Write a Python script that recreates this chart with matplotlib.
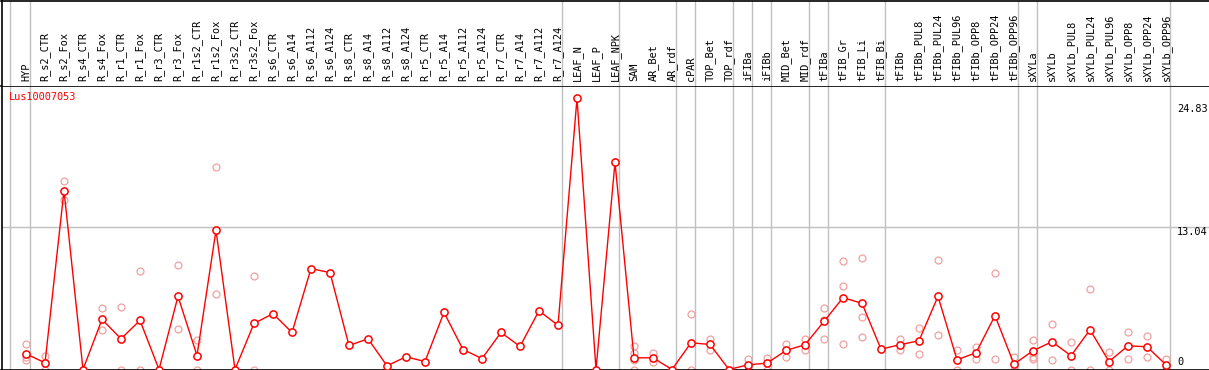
import numpy as np
import matplotlib.pyplot as plt

# samples (x order)
samples = ['HYP', 'R_s2_CTR', 'R_s2_Fox', 'R_s4_CTR', 'R_s4_Fox', 'R_r1_CTR', 'R_r1_Fox',
           'R_r3_CTR', 'R_r3_Fox', 'R_r1s2_CTR', 'R_r1s2_Fox', 'R_r3s2_CTR', 'R_r3s2_Fox',
           'R_s6_CTR', 'R_s6_A14', 'R_s6_A112', 'R_s6_A124', 'R_s8_CTR', 'R_s8_A14',
           'R_s8_A112', 'R_s8_A124', 'R_r5_CTR', 'R_r5_A14', 'R_r5_A112', 'R_r5_A124',
           'R_r7_CTR', 'R_r7_A14', 'R_r7_A112', 'R_r7_A124', 'LEAF_N', 'LEAF_P', 'LEAF_NPK',
           'SAM', 'AR_Bet', 'AR_rdf', 'cPAR', 'TOP_Bet', 'TOP_rdf', 'iFIBa', 'iFIBb',
           'MID_Bet', 'MID_rdf', 'tFIBa', 'tFIB_Gr', 'tFIB_Li', 'tFIB_Bi', 'tFIBb',
           'tFIBb_PUL8', 'tFIBb_PUL24', 'tFIBb_PUL96', 'tFIBb_OPP8', 'tFIBb_OPP24',
           'tFIBb_OPP96', 'sXYLa', 'sXYLb', 'sXYLb_PUL8', 'sXYLb_PUL24', 'sXYLb_PUL96',
           'sXYLb_OPP8', 'sXYLb_OPP24', 'sXYLb_OPP96']

# mean expression
means = [1.44, 0.61, 16.39, 0.0, 4.59, 2.81, 4.5, 0.0, 6.7, 1.28, 12.75, 0.0, 4.22,
         5.11, 3.39, 9.24, 8.87, 2.2, 2.81, 0.34, 1.16, 0.73, 5.23, 1.83, 1.0,
         3.39, 2.11, 5.38, 4.04, 24.83, 0.0, 18.96,
         1.07, 1.07, 0.0, 2.45, 2.29, 0.0, 0.43, 0.58,
         1.74, 2.27, 4.4, 6.58, 6.06, 1.86, 2.27,
         2.63, 6.7, 0.89, 1.53, 4.93,
         0.49, 1.72, 2.54, 1.26, 3.64, 0.73,
         2.17, 2.08, 0.43]

# replicate values (index into samples, value)
rep_idx = [0, 0, 0, 1, 1, 2, 2, 4, 4, 5, 5, 6, 6, 8, 8, 9, 9, 10, 10, 12, 12,
           32, 32, 32, 32, 33, 33, 35, 35, 36, 36, 38, 38, 39, 39, 40, 40, 41, 41,
           42, 42, 42, 43, 43, 43, 44, 44, 44, 46, 46, 47, 47, 48, 48, 49, 49,
           50, 50, 51, 51, 52, 52, 53, 53, 53, 54, 54, 55, 55, 56, 56, 57, 57,
           58, 58, 59, 59, 60, 60]
rep_val = [2.29, 1.13, 0.9, 1.28, 0.0, 17.3, 15.5, 5.6, 3.58, 5.69, 0.0, 9.0, 0.0,
           9.54, 3.73, 2.66, 0.0, 18.5, 6.94, 8.53, 0.0,
           2.11, 1.5, 0.83, 0.0, 1.5, 0.67, 5.05, 0.0, 2.78, 1.74, 0.94, 0.0, 1.07, 0.0,
           2.29, 1.13, 2.78, 1.83,
           5.6, 4.5, 2.78, 9.97, 7.68, 2.29, 10.25, 4.77, 3.0, 2.81, 1.74, 3.83, 1.44,
           10.06, 3.18, 1.81, 0.0,
           2.02, 0.94, 8.87, 0.94, 1.19, 0.0, 2.66, 1.19, 0.94, 4.19, 0.83, 2.54, 0.0,
           7.4, 0.0, 1.56, 0.0,
           3.39, 0.92, 3.03, 1.16, 0.98, 0.0]

# group separators (after these positions)
seps = [-0.84, 0.23, 28.23, 31.23, 34.23, 35.23, 37.23, 38.23, 39.23, 41.23,
        42.23, 45.23, 52.23, 53.23, 60.23]

yticks = [0, 13.04, 24.83]
title = 'Lus10007053'

W, H = 1209, 370
fig = plt.figure(figsize=(W / 100, H / 100), dpi=100)
top_px = 85.5
bot_px = 369.5
left_px = 1.5
ax = fig.add_axes([left_px / W, (H - bot_px) / H, (W - left_px) / W, (bot_px - top_px) / H])
hx = fig.add_axes([left_px / W, (H - top_px) / H, (W - left_px) / W, top_px / H - 0.5 / H])

x = np.arange(len(samples))
ax.set_xlim((left_px - 26) / 19, (W - 26) / 19)
ax.set_ylim(0, (bot_px - 0.5 - top_px) / 10.902)
hx.set_xlim(ax.get_xlim())
hx.set_ylim(0, 1)

gray = '#c0c0c0'
for s in seps:
    ax.axvline(s, color=gray, lw=1, zorder=0)
    hx.axvline(s, color=gray, lw=1, zorder=0)
ax.axhline(13.04, color=gray, lw=1, zorder=0)

# replicates, then mean line
ax.plot(rep_idx, rep_val, 'o', ms=5, mfc='none', mec='#f0a0a0', mew=0.9, zorder=2)
ax.plot(x, means, '-', color='#ff0000', lw=1, zorder=3)
ax.plot(x, means, 'o', ms=5.2, mfc='white', mec='#ff0000', mew=1.1, zorder=4)

mono = 'DejaVu Sans Mono'
fs = 7.4
ax.set_xticks([])
ax.set_yticks([])
hx.set_yticks([])
hx.set_xticks(x)
hx.set_xticklabels(samples, rotation=90, fontsize=fs, family=mono)
# labels sit inside header, anchored at its bottom
hx.tick_params(axis='x', length=0, pad=-3)
for lab in hx.get_xticklabels():
    lab.set_verticalalignment('bottom')

for sp in ['right', 'bottom']:
    hx.spines[sp].set_visible(False)
for sp in ['left', 'top']:
    hx.spines[sp].set_linewidth(1.2)
ax.spines['right'].set_visible(False)
for sp in ['left', 'top', 'bottom']:
    ax.spines[sp].set_linewidth(1.2)

xr = (1177 - 26) / 19
ax.text(xr, yticks[2] - 0.55, '24.83', ha='left', va='top', fontsize=fs, family=mono)
ax.text(xr, yticks[1], '13.04', ha='left', va='top', fontsize=fs, family=mono)
ax.text(xr, yticks[0] + 0.2, '0', ha='left', va='bottom', fontsize=fs, family=mono)

ax.text((9 - left_px) / (W - left_px), 1 - 6 / (bot_px - top_px), title, transform=ax.transAxes,
        ha='left', va='top', color='#ff0000', fontsize=fs, family=mono)

fig.savefig('out.png', dpi=100)
